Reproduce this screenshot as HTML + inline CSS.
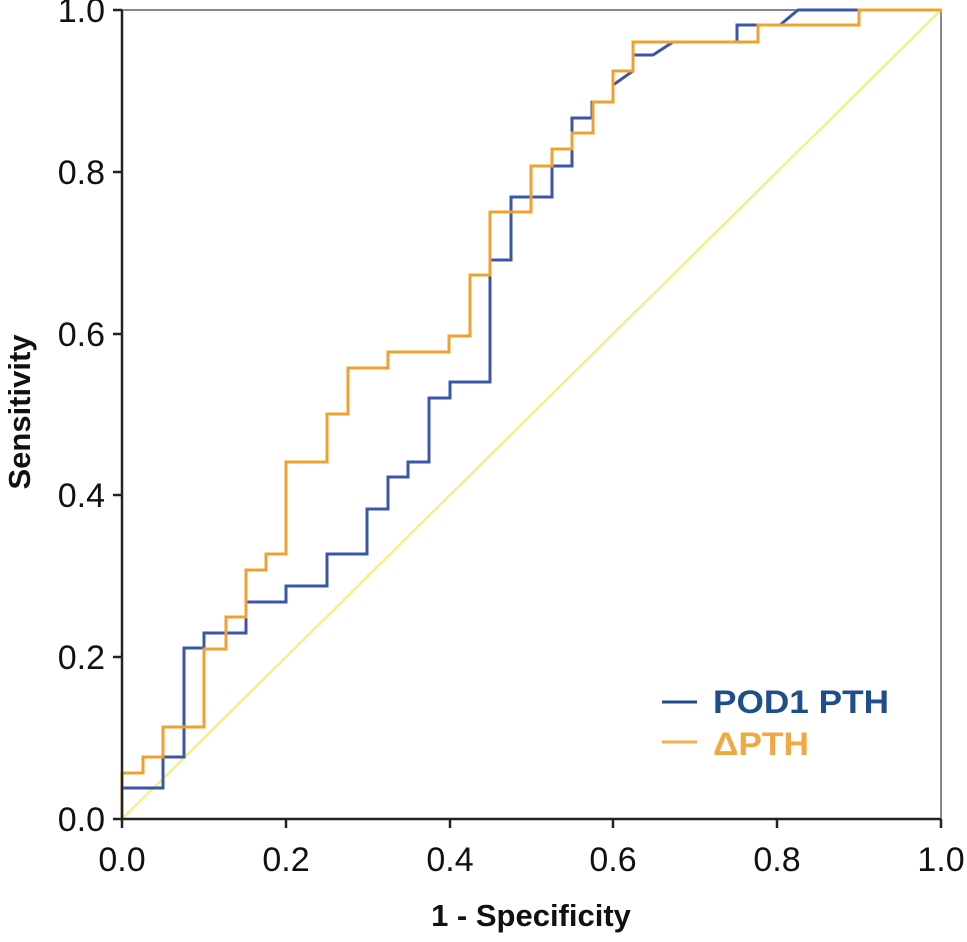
<!DOCTYPE html>
<html><head><meta charset="utf-8"><style>
html,body{margin:0;padding:0;background:#fff;}
svg{display:block;font-family:"Liberation Sans",Arial,sans-serif;}
</style></head><body>
<svg width="967" height="942" viewBox="0 0 967 942">
<rect x="122" y="10" width="819" height="809" fill="none" stroke="#888" stroke-width="2"/>
<line x1="122" y1="819" x2="941" y2="10" stroke="#f2f08a" stroke-width="2.5"/>
<polyline fill="none" stroke="#3a56a8" stroke-width="3" points="122,819 122,788 163,788 163,757 184,757 184,648 204,648 204,633 246,633 246,602 286,602 286,586 327,586 327,554 367,554 367,509 388,509 388,477 408,477 408,462 429,462 429,398 450,398 450,382 490,382 490,260 511,260 511,197 552,197 552,166 572,166 572,118 592,118 592,102 613,102 613,85 633,71 633,55 653,55 673,42 737,42 737,25 780,25 798,10 941,10"/>
<polyline fill="none" stroke="#f0a030" stroke-width="3" points="122,819 122,773 143,773 143,757 163,757 163,727 204,727 204,649 226,649 226,617 246,617 246,570 266,570 266,554 286,554 286,462 327,462 327,414 348,414 348,368 388,368 388,352 449,352 449,336 470,336 470,275 490,275 490,212 531,212 531,166 552,166 552,149 572,149 572,133 593,133 593,102 613,102 613,71 633,71 633,42 758,42 758,25 859,25 859,10 941,10"/>
<g stroke="#222" stroke-width="2.5">
<line x1="122" y1="10" x2="122" y2="819"/><line x1="122" y1="819" x2="941" y2="819"/>
<line x1="113" y1="819" x2="122" y2="819"/><line x1="113" y1="657" x2="122" y2="657"/><line x1="113" y1="495" x2="122" y2="495"/><line x1="113" y1="334" x2="122" y2="334"/><line x1="113" y1="172" x2="122" y2="172"/><line x1="113" y1="10" x2="122" y2="10"/>
<line x1="122" y1="819" x2="122" y2="828"/><line x1="286" y1="819" x2="286" y2="828"/><line x1="450" y1="819" x2="450" y2="828"/><line x1="613" y1="819" x2="613" y2="828"/><line x1="777" y1="819" x2="777" y2="828"/><line x1="941" y1="819" x2="941" y2="828"/>
</g>
<g font-size="34" fill="#111" text-anchor="end">
<text x="105" y="831">0.0</text><text x="105" y="669">0.2</text><text x="105" y="507">0.4</text><text x="105" y="346">0.6</text><text x="105" y="184">0.8</text><text x="105" y="22">1.0</text>
</g>
<g font-size="34" fill="#111" text-anchor="middle">
<text x="122" y="871">0.0</text><text x="286" y="871">0.2</text><text x="450" y="871">0.4</text><text x="613" y="871">0.6</text><text x="777" y="871">0.8</text><text x="941" y="871">1.0</text>
</g>
<text x="531" y="926" font-size="31" font-weight="bold" text-anchor="middle" fill="#111">1 - Specificity</text>
<text transform="translate(30,412) rotate(-90)" font-size="31" font-weight="bold" text-anchor="middle" fill="#111">Sensitivity</text>
<line x1="662" y1="702" x2="697" y2="702" stroke="#1f4e8a" stroke-width="3"/>
<line x1="662" y1="742" x2="697" y2="742" stroke="#f0b050" stroke-width="3"/>
<text x="713" y="713" font-size="32" font-weight="bold" fill="#1f4e8a" textLength="176" lengthAdjust="spacingAndGlyphs">POD1 PTH</text>
<text x="713" y="755" font-size="32" font-weight="bold" fill="#f0a840" textLength="96" lengthAdjust="spacingAndGlyphs">ΔPTH</text>
</svg>
</body></html>
